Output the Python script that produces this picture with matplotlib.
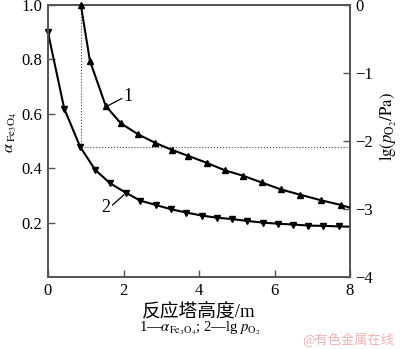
import matplotlib
matplotlib.use("Agg")
import matplotlib.pyplot as plt

plt.rcParams['font.family'] = ['Liberation Serif', 'Noto Sans CJK SC']
plt.rcParams['mathtext.fontset'] = 'stix'

# Curve 2: alpha Fe3O4 (left axis)
x2 = [0.0, 0.43, 0.85, 1.25, 1.64, 2.06, 2.44, 2.85, 3.26, 3.66, 4.07, 4.47,
      4.88, 5.28, 5.69, 6.08, 6.50, 6.90, 7.29, 7.71]
y2 = [0.899, 0.619, 0.479, 0.394, 0.345, 0.310, 0.281, 0.265, 0.249, 0.237,
      0.226, 0.218, 0.213, 0.206, 0.200, 0.196, 0.193, 0.189, 0.188, 0.186]
x2_end = 8.0
y2_end = 0.185

# Curve 1: lg pO2 (right axis)
x1 = [0.87, 1.11, 1.53, 1.93, 2.38, 2.83, 3.28, 3.72, 4.20, 4.68, 5.16,
      5.66, 6.16, 6.68, 7.22, 7.75]
y1 = [0.0, -0.82, -1.485, -1.74, -1.90, -2.025, -2.13, -2.22, -2.32, -2.43,
      -2.51, -2.61, -2.71, -2.79, -2.87, -2.94]
x1_end = 8.0
y1_end = -2.98

# dotted guide (reference point)
guide_x = 0.87
guide_y = 0.479

xticks = [0, 2, 4, 6, 8]
lticks = [0.2, 0.4, 0.6, 0.8, 1.0]
rticks = [0, -1, -2, -3, -4]

fig = plt.figure(figsize=(4.0, 3.49), dpi=100)
ax = fig.add_axes([0.12, 0.2063, 0.755, 0.7794])
ax2 = ax.twinx()

spine_c = '#555555'
for a in (ax, ax2):
    for s in a.spines.values():
        s.set_color(spine_c)
        s.set_linewidth(1.3)

# dotted guides
ax.plot([guide_x, guide_x], [guide_y, 1.0], ls=':', lw=0.8, color='#444444')
ax.plot([guide_x, 8.0], [guide_y, guide_y], ls=':', lw=0.8, color='#444444')

# curve 2
ax.plot(x2 + [x2_end], y2 + [y2_end], color='black', lw=1.5, zorder=3)
ax.plot(x2, y2, ls='none', marker='v', ms=4.5, color='black', zorder=4,
        clip_on=False)

# curve 1
ax2.plot(x1 + [x1_end], y1 + [y1_end], color='black', lw=1.5, zorder=3)
ax2.plot(x1, y1, ls='none', marker='^', ms=4.5, color='black', zorder=4,
         clip_on=False)

ax.set_xlim(0, 8)
ax.set_ylim(0, 1.0)
ax2.set_ylim(-4, 0)
ax.set_xticks(xticks)
ax.set_xticklabels([str(v) for v in xticks])
ax.set_yticks(lticks)
ax.set_yticklabels([f"{v:.1f}" for v in lticks])
ax2.set_yticks(rticks)
ax2.set_yticklabels([("\u2212" + str(-v)) if v < 0 else str(v) for v in rticks])

ax.tick_params(axis='both', direction='in', length=5, width=1, color=spine_c,
               labelsize=12, pad=4)
ax2.tick_params(axis='y', direction='in', length=5, width=1, color=spine_c,
                labelsize=12, pad=4)

# curve labels with leader lines
ax.plot([1.59, 1.95], [0.63, 0.656], color='black', lw=0.9)
ax.text(2.0, 0.662, '1', fontsize=13, ha='left', va='center')
ax.plot([1.71, 2.01], [0.265, 0.302], color='black', lw=0.9)
ax.text(1.66, 0.255, '2', fontsize=13, ha='right', va='center')

# axis labels
ax.set_xlabel('反应塔高度/m', fontsize=13.5, labelpad=3)
fig.text(0.027, 0.62, r'$\alpha_{\ \mathrm{Fe_3O_4}}$', rotation=90,
         fontsize=11.5, ha='center', va='center')
fig.text(0.972, 0.636, r'$\mathrm{lg}(p_{\mathrm{O_2}}/\mathrm{Pa})$',
         rotation=90, fontsize=12, ha='center', va='center')

# caption
fig.text(0.5, 0.06, r'1—$\alpha_{\mathrm{Fe_3O_4}}$; 2—lg $p_{\mathrm{O_2}}$',
         fontsize=10.5, ha='center', va='center')

# watermark
fig.text(0.985, 0.025, '@有色金属在线', fontsize=9.5, color='#f0b4b4',
         ha='right', va='center', family=['Noto Sans CJK SC', 'DejaVu Sans'])

fig.savefig('out.png', dpi=100)
